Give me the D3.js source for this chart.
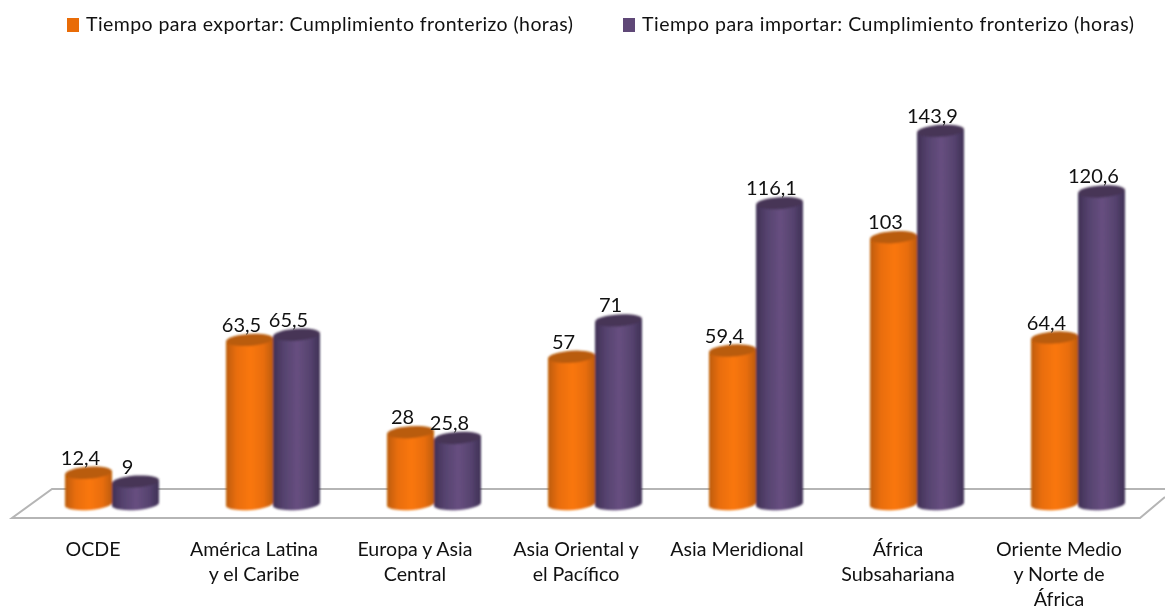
<!DOCTYPE html>
<html>
<head>
<meta charset="utf-8">
<script src="https://cdnjs.cloudflare.com/ajax/libs/d3/7.8.5/d3.min.js"></script>
<style>
    html, body { margin: 0; padding: 0; background: #fff; overflow: hidden; }
    text { font-family: Lato, "Open Sans", sans-serif; fill: #111; }
</style>
</head>
<body>
<div id="chart"></div>
<script>
    var categories = [
        "OCDE",
        "América Latina\ny el Caribe",
        "Europa y Asia\nCentral",
        "Asia Oriental y\nel Pacífico",
        "Asia Meridional",
        "África\nSubsahariana",
        "Oriente Medio\ny Norte de\nÁfrica"
    ];
    var seriesNames = [
        "Tiempo para exportar: Cumplimiento fronterizo (horas)",
        "Tiempo para importar: Cumplimiento fronterizo (horas)"
    ];
    var exportHours = [12.4, 63.5, 28, 57, 59.4, 103, 64.4];
    var importHours = [9, 65.5, 25.8, 71, 116.1, 143.9, 120.6];

    var width = 1165, height = 607;
    var baseY = 504, barWidth = 47, ry = 6, tilt = 2;

    var svg = d3.select("#chart").append("svg")
        .attr("width", width)
        .attr("height", height);

    var defs = svg.append("defs");

    // side shading of the cylinders
    function addGradient(id, edge, shoulder, mid) {
        var g = defs.append("linearGradient").attr("id", id);
        g.append("stop").attr("offset", "0%").attr("stop-color", edge);
        g.append("stop").attr("offset", "22%").attr("stop-color", shoulder);
        g.append("stop").attr("offset", "52%").attr("stop-color", mid);
        g.append("stop").attr("offset", "80%").attr("stop-color", shoulder);
        g.append("stop").attr("offset", "100%").attr("stop-color", edge);
    }
    addGradient("grad0", "#bd5c06", "#e86d09", "#fa770b");
    addGradient("grad1", "#3f3054", "#55426e", "#674f80");

    defs.append("filter").attr("id", "soft")
        .append("feGaussianBlur").attr("stdDeviation", 0.8);

    var colors = ["url(#grad0)", "url(#grad1)"];
    var lidColors = ["#b95c08", "#463556"];
    var legendColors = ["#e96c07", "#5f4877"];

    var x = d3.scaleBand()
        .domain(categories)
        .range([31.5, 1158.5]);

    var x1 = d3.scaleBand()
        .domain([0, 1])
        .range([x.bandwidth() / 2 - barWidth, x.bandwidth() / 2 + barWidth]);

    var y = d3.scaleLinear()
        .domain([0, 150])
        .range([baseY, baseY - 390]);

    // floor
    svg.append("path")
        .attr("d", "M1165,489L52,489L12,518L1140,518L1165,497")
        .attr("fill", "none")
        .attr("stroke", "#b5b5b5")
        .attr("stroke-width", 2);

    // bars
    var rows = [];
    categories.forEach(function(c, i) {
        rows.push({cat: c, s: 0, v: exportHours[i]});
        rows.push({cat: c, s: 1, v: importHours[i]});
    });

    function bodyPath(d) {
        var x0 = x(d.cat) + x1(d.s), x2 = x0 + barWidth, rx = barWidth / 2, top = y(d.v);
        return "M" + x0 + "," + (top + tilt) +
            "L" + x0 + "," + (baseY + tilt) +
            "A" + rx + "," + ry + " -4 0 0 " + x2 + "," + (baseY - tilt) +
            "L" + x2 + "," + (top - tilt) +
            "A" + rx + "," + ry + " -4 0 1 " + x0 + "," + (top + tilt) + "Z";
    }

    var bars = svg.append("g").attr("filter", "url(#soft)")
        .selectAll("g")
        .data(rows)
        .enter()
      .append("g");

    bars.append("path")
        .attr("d", bodyPath)
        .attr("fill", function(d) { return colors[d.s]; });

    bars.append("ellipse")
        .attr("cx", 0)
        .attr("cy", 0)
        .attr("rx", barWidth / 2)
        .attr("ry", ry)
        .attr("transform", function(d) {
            return "translate(" + (x(d.cat) + x1(d.s) + barWidth / 2) + "," + (y(d.v) + 1) + ") rotate(-4)";
        })
        .attr("fill", function(d) { return lidColors[d.s]; });

    // value labels
    svg.append("g").selectAll("text")
        .data(rows)
        .enter()
      .append("text")
        .attr("x", function(d) { return x(d.cat) + x1(d.s) + barWidth / 2 - 8; })
        .attr("y", function(d) { return y(d.v) - 7; })
        .attr("text-anchor", "middle")
        .attr("font-size", 20)
        .text(function(d) { return String(d.v).replace(".", ","); });

    // category axis, shifted left to sit under the floor's front edge
    var xAxis = d3.axisBottom(x).tickSize(0).tickPadding(0);
    var axis = svg.append("g")
        .attr("transform", "translate(-19,0)")
        .call(xAxis);
    axis.select(".domain").remove();
    axis.selectAll(".tick text").each(function(d) {
        var t = d3.select(this).text("").attr("y", 0).attr("dy", null)
            .attr("font-size", 19.6).attr("font-family", null);
        d.split("\n").forEach(function(line, i) {
            t.append("tspan")
                .attr("x", 0)
                .attr("y", 556 + i * 25)
                .text(line);
        });
    });

    // legend
    var legendX = [67, 623], legendTextX = [86, 642], legendTextLen = [487, 492];
    seriesNames.forEach(function(name, i) {
        svg.append("rect")
            .attr("x", legendX[i])
            .attr("y", 18)
            .attr("width", 12)
            .attr("height", 14)
            .attr("fill", legendColors[i]);
        svg.append("text")
            .attr("x", legendTextX[i])
            .attr("y", 31)
            .attr("font-size", 19.5)
            .attr("textLength", legendTextLen[i])
            .text(name);
    });
</script>
</body>
</html>
